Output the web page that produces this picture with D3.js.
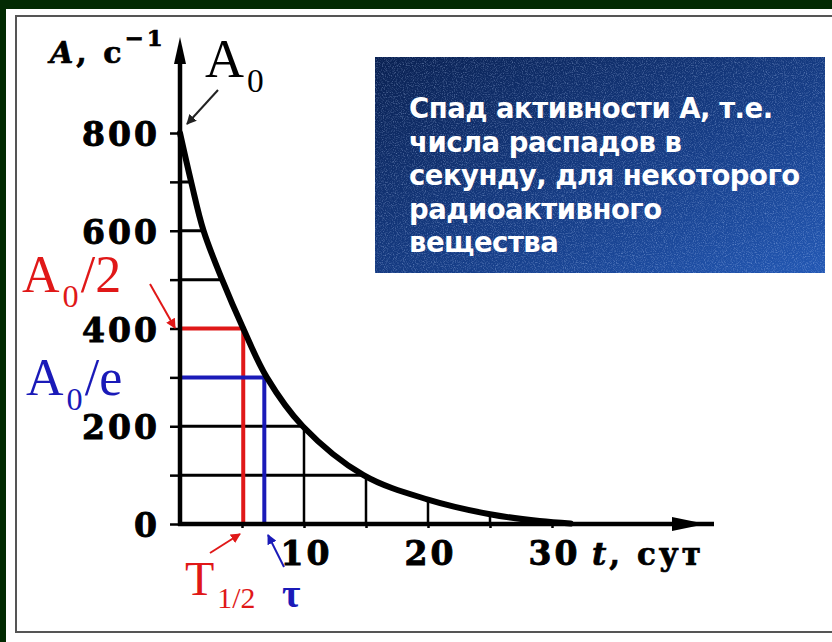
<!DOCTYPE html>
<html>
<head>
<meta charset="utf-8">
<script src="https://cdn.jsdelivr.net/npm/d3@7"></script>
<style>
  html, body { margin: 0; padding: 0; background: #022a02; }
  svg { display: block; }
</style>
</head>
<body>
<div id="chart"></div>
<script>
// Activity decay curve.
const timeDays = [0, 0.9, 1.9, 3.4, 5.1, 7.0, 9.9, 14.8, 20, 25, 29, 31.5];
const activity = [800, 700, 600, 500, 400, 300, 200, 100, 50, 20, 6, 1];

const yTicks = [0, 100, 200, 300, 400, 500, 600, 700, 800];
const yLabels = [0, 200, 400, 600, 800];
const xTicks = [5, 10, 15, 20, 25, 30];
const xLabels = [10, 20, 30];
const gridLevels = [100, 200, 500, 600, 700];

const A0 = 800;
const halfLife = 5.1;     // T1/2
const meanLife = 6.8;     // tau
const A0overE = 300;

const boxLines = [
    "Спад активности А, т.е.",
    "числа распадов в",
    "секунду, для некоторого",
    "радиоактивного",
    "вещества"
];

const WIDTH = 832, HEIGHT = 642;
const SERIF = "'DejaVu Serif', 'Liberation Serif', serif";
const TIMES = "'Liberation Serif', 'Times New Roman', serif";
const RED = "#e01818", BLUE = "#1a1ab8";

const data = timeDays.map((t, i) => ({ t, a: activity[i] }));

const svg = d3.select("#chart")
    .append("svg")
    .attr("width", WIDTH)
    .attr("height", HEIGHT);

const defs = svg.append("defs");

// white panel with thin frame
svg.append("rect")
    .attr("x", 6).attr("y", 9)
    .attr("width", WIDTH - 6).attr("height", HEIGHT - 9)
    .attr("fill", "#fff");
svg.append("path")
    .attr("d", `M${WIDTH},16 H16 V632 H${WIDTH}`)
    .attr("fill", "none")
    .attr("stroke", "#555")
    .attr("stroke-width", 2);

const xScale = d3.scaleLinear().domain([0, 30]).range([180, 552]);
const yScale = d3.scaleLinear().domain([0, 800]).range([524, 133]);

const smooth = d3.curveCatmullRom.alpha(0.5);

// area under the curve is used to clip the grid
const area = d3.area()
    .curve(smooth)
    .x(d => xScale(d.t))
    .y0(yScale(0))
    .y1(d => yScale(d.a));

defs.append("clipPath").attr("id", "under")
    .append("path").attr("d", area(data));

const grid = svg.append("g").attr("clip-path", "url(#under)");

grid.selectAll("line.h")
    .data(gridLevels)
    .join("line")
    .attr("class", "h")
    .attr("x1", xScale(0)).attr("x2", xScale(40))
    .attr("y1", d => yScale(d)).attr("y2", d => yScale(d))
    .attr("stroke", "#000").attr("stroke-width", 3);

grid.selectAll("line.v")
    .data(xTicks.filter(d => d !== 5))
    .join("line")
    .attr("class", "v")
    .attr("x1", d => xScale(d)).attr("x2", d => xScale(d))
    .attr("y1", yScale(0)).attr("y2", yScale(800))
    .attr("stroke", "#000").attr("stroke-width", 2.5);

// half-life and mean-life guides
const guides = [
    { t: halfLife, a: A0 / 2, color: RED },
    { t: meanLife, a: A0overE, color: BLUE }
];
guides.forEach(g => {
    svg.append("path")
        .attr("d", `M${xScale(0)},${yScale(g.a)} H${xScale(g.t)} V${yScale(0)}`)
        .attr("fill", "none")
        .attr("stroke", g.color)
        .attr("stroke-width", 4);
});

// axes
const yAxis = svg.append("g")
    .attr("transform", `translate(${xScale(0)},0)`)
    .call(d3.axisLeft(yScale)
        .tickValues(yTicks)
        .tickSize(10)
        .tickPadding(10)
        .tickFormat(d => yLabels.includes(d) ? d : ""));

const xAxis = svg.append("g")
    .attr("transform", `translate(0,${yScale(0)})`)
    .call(d3.axisBottom(xScale)
        .tickValues(xTicks)
        .tickSize(4)
        .tickFormat(d => xLabels.includes(d) ? d : ""));

[yAxis, xAxis].forEach(ax => {
    ax.select(".domain").remove();
    ax.selectAll(".tick line").attr("stroke", "#000").attr("stroke-width", 2.5);
    ax.selectAll(".tick text")
        .attr("fill", "#000")
        .attr("stroke", "#000")
        .attr("stroke-width", 0.9)
        .style("font-family", SERIF)
        .style("font-weight", "bold")
        .style("font-size", "33px")
        .style("letter-spacing", "3px");
});
yAxis.selectAll(".tick text").attr("dy", "0.38em");
xAxis.selectAll(".tick text").attr("y", 41).attr("dy", 0).attr("dx", 2);

// axis lines with arrows
svg.append("line")
    .attr("x1", xScale(0)).attr("x2", xScale(0))
    .attr("y1", yScale(0) + 2).attr("y2", 52)
    .attr("stroke", "#000").attr("stroke-width", 4.5);
svg.append("path")
    .attr("d", `M${xScale(0)},37 L${xScale(0) + 6},64 L${xScale(0) - 6},64 Z`)
    .attr("fill", "#000");

svg.append("line")
    .attr("x1", xScale(0) - 2).attr("x2", 714)
    .attr("y1", yScale(0)).attr("y2", yScale(0))
    .attr("stroke", "#000").attr("stroke-width", 4.5);
svg.append("path")
    .attr("d", `M706,${yScale(0)} L672,${yScale(0) - 7} L672,${yScale(0) + 7} Z`)
    .attr("fill", "#000");

// decay curve
const line = d3.line()
    .curve(smooth)
    .x(d => xScale(d.t))
    .y(d => yScale(d.a));

svg.append("path")
    .attr("d", line(data))
    .attr("fill", "none")
    .attr("stroke", "#000")
    .attr("stroke-width", 6)
    .attr("stroke-linecap", "round");

// axis titles
const yTitle = svg.append("text")
    .attr("x", 50).attr("y", 63)
    .attr("stroke", "#000").attr("stroke-width", 0.7)
    .style("font-family", SERIF)
    .style("font-weight", "bold")
    .style("font-size", "30px")
    .style("letter-spacing", "3px");
yTitle.append("tspan").text("A").style("font-style", "italic");
yTitle.append("tspan").text(", c");
yTitle.append("tspan").text("−1").attr("dy", -17).style("font-size", "23px");

const xTitle = svg.append("text")
    .attr("x", 592).attr("y", 565)
    .attr("stroke", "#000").attr("stroke-width", 0.7)
    .style("font-family", SERIF)
    .style("font-weight", "bold")
    .style("font-size", "31px")
    .style("letter-spacing", "3px");
xTitle.append("tspan").text("t").style("font-style", "italic");
xTitle.append("tspan").text(", сут");

// annotation arrows
const marker = (id, color) => {
    defs.append("marker")
        .attr("id", id)
        .attr("viewBox", "0 0 10 10")
        .attr("refX", 9).attr("refY", 5)
        .attr("markerWidth", 5).attr("markerHeight", 5)
        .attr("orient", "auto")
        .append("path")
        .attr("d", "M0,0 L10,5 L0,10 Z")
        .attr("fill", color);
};
marker("arrBlack", "#222");
marker("arrRed", RED);
marker("arrBlue", BLUE);

const arrow = (x1, y1, x2, y2, color, id) => {
    svg.append("line")
        .attr("x1", x1).attr("y1", y1).attr("x2", x2).attr("y2", y2)
        .attr("stroke", color).attr("stroke-width", 2)
        .attr("marker-end", `url(#${id})`);
};
arrow(218, 90, 187, 124, "#222", "arrBlack");
arrow(150, 284, 175, 328, RED, "arrRed");
arrow(210, 553, 240, 534, RED, "arrRed");
arrow(284, 567, 268, 535, BLUE, "arrBlue");

// symbol labels
const symbol = (x, y, color, main, sub, tail, size) => {
    const t = svg.append("text")
        .attr("x", x).attr("y", y)
        .attr("fill", color)
        .style("font-family", TIMES)
        .style("font-size", size + "px");
    t.append("tspan").text(main);
    t.append("tspan").text(sub)
        .attr("dx", 3).attr("dy", size * 0.28)
        .style("font-size", (size * 0.62) + "px");
    if (tail) t.append("tspan").text(tail).attr("dx", 2).attr("dy", -size * 0.28);
    return t;
};
symbol(205, 77, "#000", "A", "0", "", 54);
symbol(22, 292, RED, "A", "0", "/2", 52);
symbol(26, 395, BLUE, "A", "0", "/e", 52);
symbol(185, 595, RED, "T", "1/2", "", 48);

svg.append("text")
    .attr("x", 282).attr("y", 607)
    .attr("fill", BLUE)
    .style("font-family", TIMES)
    .style("font-weight", "bold")
    .style("font-size", "40px")
    .text("τ");

// caption box
const grad = defs.append("linearGradient")
    .attr("id", "boxGrad")
    .attr("x1", 0).attr("y1", 0).attr("x2", 1).attr("y2", 1);
grad.append("stop").attr("offset", 0).attr("stop-color", "#0a2152");
grad.append("stop").attr("offset", 0.6).attr("stop-color", "#173f8a");
grad.append("stop").attr("offset", 1).attr("stop-color", "#2358b4");

const noise = defs.append("filter").attr("id", "speckle")
    .attr("x", 0).attr("y", 0).attr("width", 1).attr("height", 1);
noise.append("feTurbulence")
    .attr("type", "fractalNoise")
    .attr("baseFrequency", 0.9)
    .attr("numOctaves", 2)
    .attr("seed", 3);
noise.append("feColorMatrix")
    .attr("values", "0 0 0 0 0.55  0 0 0 0 0.7  0 0 0 0 1  0 0 0 1.6 -0.75");
noise.append("feComposite").attr("in2", "SourceGraphic").attr("operator", "in");

const box = { x: 375, y: 57, w: 450, h: 216 };
svg.append("rect")
    .attr("x", box.x).attr("y", box.y)
    .attr("width", box.w).attr("height", box.h)
    .attr("fill", "url(#boxGrad)");
svg.append("rect")
    .attr("x", box.x).attr("y", box.y)
    .attr("width", box.w).attr("height", box.h)
    .attr("fill", "#fff")
    .attr("opacity", 0.55)
    .attr("filter", "url(#speckle)");

svg.append("g")
    .selectAll("text")
    .data(boxLines)
    .join("text")
    .attr("x", 409)
    .attr("y", (d, i) => 118 + i * 33.6)
    .attr("fill", "#fff")
    .style("font-family", "'DejaVu Sans', sans-serif")
    .style("font-weight", "bold")
    .style("font-size", "27.5px")
    .style("letter-spacing", "-0.5px")
    .text(d => d);
</script>
</body>
</html>
